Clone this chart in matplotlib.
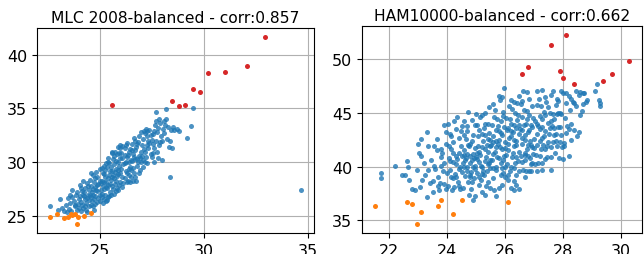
import numpy as np
import matplotlib
matplotlib.use("Agg")
import matplotlib.pyplot as plt

# ---------------- data: MLC 2008-balanced ----------------
mlc_title = "MLC 2008-balanced - corr:0.857"
mlc_high = [(25.6, 35.3), (28.5, 35.7), (28.8, 35.2), (29.1, 35.3), (29.5, 36.8),
            (29.85, 36.5), (30.2, 38.3), (31.05, 38.35), (32.1, 38.9), (32.95, 41.6)]
mlc_low = [(22.6, 24.9), (22.95, 25.2), (23.3, 24.85), (23.5, 24.9), (23.65, 25.2),
           (23.8, 25.2), (23.9, 24.3), (23.95, 24.95), (24.25, 25.0), (24.6, 25.3), (23.7, 25.1)]
mlc_mid = [
    (34.7, 27.4), (28.4, 28.6), (28.0, 30.2), (29.2, 32.3), (29.5, 35.0), (28.2, 34.9),
    (27.7, 34.7), (29.4, 33.4), (28.5, 31.3), (28.4, 32.0), (22.6, 25.9), (23.1, 26.6),
    (23.3, 25.5), (23.4, 26.0), (23.2, 25.8), (23.5, 26.7), (23.45, 25.4), (23.0, 25.6),
    (23.6, 26.2), (23.7, 26.8), (23.8, 25.9), (23.9, 27.2), (23.55, 25.7), (23.75, 26.4),
    (23.85, 27.0), (23.95, 26.1), (23.65, 25.5), (23.9, 25.6), (23.7, 27.4), (24.0, 26.6),
    (24.05, 27.9), (24.1, 26.3), (24.15, 27.3), (24.2, 25.8), (24.25, 26.9), (24.3, 27.6),
    (24.35, 26.2), (24.4, 28.1), (24.45, 27.0), (24.5, 26.5), (24.1, 25.5), (24.2, 28.3),
    (24.3, 25.9), (24.4, 26.7), (24.45, 27.8), (24.05, 26.9), (24.25, 27.2), (24.35, 25.6),
    (24.5, 27.4), (24.15, 26.0),
    (24.55, 28.4), (24.6, 26.0), (24.65, 27.2), (24.7, 28.8), (24.75, 26.6), (24.8, 27.7),
    (24.85, 29.1), (24.9, 26.3), (24.95, 28.0), (25.0, 27.0), (24.55, 27.0), (24.6, 27.8),
    (24.7, 25.9), (24.75, 28.2), (24.8, 26.9), (24.85, 27.4), (24.9, 28.6), (24.95, 26.7),
    (25.0, 29.4), (24.65, 26.4), (24.7, 27.5), (24.8, 28.5), (24.9, 27.3), (24.6, 29.0),
    (24.75, 25.6),
    (25.05, 28.1), (25.1, 26.8), (25.15, 29.0), (25.2, 27.5), (25.25, 28.6), (25.3, 26.4),
    (25.35, 29.6), (25.4, 27.9), (25.45, 28.8), (25.5, 27.2), (25.05, 27.4), (25.1, 29.5),
    (25.15, 26.2), (25.2, 28.9), (25.25, 27.0), (25.3, 28.2), (25.35, 27.6), (25.4, 30.0),
    (25.45, 26.9), (25.5, 29.2), (25.1, 28.3), (25.2, 26.6), (25.3, 29.9), (25.4, 28.5),
    (25.5, 28.0), (25.25, 29.3), (25.15, 27.8), (25.35, 26.5),
    (25.55, 29.6), (25.6, 27.8), (25.65, 30.3), (25.7, 28.5), (25.75, 29.1), (25.8, 27.3),
    (25.85, 30.8), (25.9, 28.9), (25.95, 29.7), (26.0, 28.2), (25.55, 28.4), (25.6, 30.9),
    (25.65, 27.5), (25.7, 29.8), (25.75, 28.0), (25.8, 30.1), (25.85, 28.7), (25.9, 31.4),
    (25.95, 27.9), (26.0, 30.4), (25.6, 29.2), (25.7, 27.1), (25.8, 29.4), (25.9, 30.0),
    (26.0, 29.0), (25.65, 28.8), (25.75, 31.0), (25.85, 27.6),
    (26.05, 30.9), (26.1, 28.6), (26.15, 29.8), (26.2, 31.3), (26.25, 29.2), (26.3, 30.5),
    (26.35, 28.3), (26.4, 31.0), (26.45, 29.6), (26.5, 30.2), (26.05, 29.4), (26.1, 30.4),
    (26.15, 28.1), (26.2, 29.9), (26.25, 31.6), (26.3, 29.0), (26.35, 30.7), (26.4, 28.8),
    (26.45, 31.2), (26.5, 29.3), (26.1, 31.5), (26.2, 28.5), (26.3, 31.8), (26.4, 30.0),
    (26.5, 28.6),
    (26.55, 31.1), (26.6, 29.5), (26.65, 32.3), (26.7, 30.3), (26.75, 28.3), (26.8, 31.7),
    (26.85, 30.0), (26.9, 32.4), (26.95, 29.3), (27.0, 31.0), (26.6, 30.8), (26.7, 32.0),
    (26.8, 29.7), (26.9, 30.6), (27.0, 32.8), (26.65, 29.0), (26.75, 31.4), (26.85, 31.9),
    (26.95, 30.4), (26.55, 30.1), (26.7, 28.6),
    (27.05, 31.6), (27.1, 30.2), (27.15, 32.9), (27.2, 31.0), (27.25, 30.5), (27.3, 32.4),
    (27.35, 31.3), (27.4, 33.0), (27.45, 30.8), (27.5, 32.1), (27.1, 29.6), (27.2, 32.7),
    (27.3, 29.9), (27.4, 31.8), (27.5, 30.5), (27.15, 31.2), (27.25, 33.1), (27.35, 32.0),
    (27.05, 30.6),
    (27.55, 32.6), (27.6, 31.3), (27.65, 33.5), (27.7, 32.0), (27.8, 33.2), (27.85, 31.6),
    (27.9, 33.6), (27.95, 32.4), (27.6, 32.9), (27.75, 31.0), (27.8, 30.4), (27.7, 33.8),
    (27.9, 31.9), (27.55, 30.9),
    (28.05, 33.1), (28.1, 32.7), (28.2, 34.0), (28.3, 33.3), (28.1, 33.8), (28.25, 32.2),
    (28.45, 33.0), (28.35, 31.4), (28.6, 33.0), (28.8, 32.9), (28.55, 33.3), (28.7, 33.1),
    (24.3, 26.6), (24.5, 25.9), (24.6, 26.8), (24.8, 26.1), (24.9, 27.9), (25.0, 26.4),
    (25.0, 28.3), (25.1, 27.1), (25.2, 29.7), (25.3, 27.7), (25.4, 26.8), (25.45, 29.9),
    (25.55, 27.0), (25.6, 28.6), (25.7, 30.6), (25.8, 28.3), (25.9, 27.4), (25.95, 30.9),
    (26.0, 31.3), (26.1, 27.7), (26.2, 30.7), (26.3, 28.2), (26.4, 29.4), (26.45, 28.2),
    (26.55, 31.7), (26.6, 28.3), (26.7, 31.1), (26.8, 30.3), (26.9, 29.0), (27.0, 30.0),
    (27.1, 32.2), (27.2, 30.0), (27.3, 31.6), (27.45, 32.5), (27.6, 30.0), (27.75, 32.8),
    (27.85, 34.0), (28.0, 32.0), (28.15, 33.5), (23.8, 26.0), (24.0, 25.8), (24.2, 27.0),
    (24.1, 27.6), (23.6, 27.0), (24.4, 25.4), (24.7, 27.0), (25.2, 28.2), (25.9, 29.3),
    (26.25, 30.0), (26.65, 30.5), (27.55, 31.7), (25.6, 31.0), (26.0, 31.6), (25.4, 30.4),
    (27.3, 32.9),
]

# ---------------- data: HAM10000-balanced ----------------
ham_title = "HAM10000-balanced - corr:0.662"
ham_high = [(26.6, 48.6), (26.8, 49.3), (27.6, 51.3), (28.1, 52.2), (27.9, 48.9),
            (28.0, 48.2), (28.4, 47.7), (29.4, 48.0), (29.7, 48.6), (30.3, 49.8)]
ham_low = [(21.5, 36.3), (22.6, 36.7), (22.8, 36.5), (22.95, 34.7), (23.1, 35.8),
           (23.7, 36.3), (23.8, 36.9), (24.2, 35.6), (24.5, 36.9), (26.1, 36.7)]
ham_mid = [
    (21.7, 39.4), (21.7, 38.9), (22.2, 40.1),
    (22.45, 39.2), (22.55, 39.2), (22.6, 40.5), (22.65, 40.0), (22.7, 38.8), (22.8, 37.9),
    (22.95, 39.7), (22.98, 42.1), (22.9, 37.8),
    (23.03, 41.3), (23.09, 42.6), (23.05, 38.1), (23.15, 38.8), (23.2, 40.3), (23.25, 39.2),
    (23.3, 43.2), (23.3, 37.2), (23.33, 39.7), (23.35, 41.9), (23.45, 40.6), (23.4, 38.5),
    (23.1, 41.0),
    (23.5, 37.6), (23.52, 38.7), (23.55, 40.1), (23.56, 41.9), (23.64, 41.5), (23.66, 42.6),
    (23.7, 39.0), (23.72, 37.8), (23.75, 38.5), (23.78, 41.6), (23.82, 41.3), (23.9, 43.9),
    (23.9, 38.4), (23.91, 40.3), (23.95, 43.2), (23.96, 42.1), (23.6, 39.8), (23.85, 39.6),
    (23.8, 40.9), (23.68, 38.2), (23.98, 37.9),
    (24.05, 44.0), (24.06, 40.8), (24.1, 39.7), (24.15, 39.0), (24.2, 40.4), (24.25, 44.2),
    (24.3, 41.0), (24.35, 44.6), (24.4, 42.7), (24.45, 40.0), (24.05, 38.2), (24.12, 41.6),
    (24.18, 37.8), (24.22, 42.3), (24.28, 39.3), (24.32, 40.2), (24.38, 38.6), (24.42, 41.3),
    (24.48, 43.3), (24.1, 40.5), (24.2, 38.9), (24.3, 43.5), (24.4, 39.8), (24.45, 37.9),
    (24.15, 42.8), (24.35, 40.7), (24.25, 38.1), (24.48, 41.9), (24.08, 41.9), (24.4, 38.2),
    (24.52, 43.8), (24.58, 44.2), (24.73, 45.1), (24.75, 37.4), (24.98, 37.3), (24.55, 40.3),
    (24.6, 41.5), (24.62, 39.1), (24.65, 42.6), (24.68, 40.0), (24.7, 43.3), (24.72, 38.6),
    (24.78, 41.0), (24.8, 42.1), (24.82, 39.5), (24.85, 44.3), (24.88, 40.6), (24.9, 42.9),
    (24.92, 38.9), (24.95, 41.7), (24.97, 40.1), (24.55, 38.0), (24.6, 42.9), (24.65, 40.8),
    (24.7, 39.6), (24.75, 41.9), (24.8, 40.3), (24.85, 38.6), (24.9, 41.2), (24.95, 43.9),
    (24.58, 41.1), (24.68, 43.8), (24.78, 39.2), (24.88, 42.4), (24.98, 39.8), (24.62, 40.6),
    (24.72, 42.0), (24.82, 37.9), (24.92, 40.8), (24.52, 39.5),
    (25.15, 44.6), (25.32, 37.4), (25.44, 45.5), (25.02, 41.3), (25.05, 39.4), (25.08, 42.8),
    (25.1, 40.4), (25.12, 43.4), (25.18, 38.8), (25.2, 41.8), (25.22, 40.0), (25.25, 42.4),
    (25.28, 39.2), (25.3, 44.0), (25.35, 40.9), (25.38, 42.0), (25.4, 38.6), (25.42, 41.4),
    (25.45, 43.1), (25.48, 39.9), (25.05, 40.7), (25.1, 38.3), (25.15, 41.1), (25.2, 43.0),
    (25.25, 39.6), (25.3, 41.6), (25.35, 38.2), (25.4, 42.6), (25.45, 40.3), (25.5, 41.9),
    (25.08, 41.9), (25.18, 40.1), (25.28, 43.6), (25.38, 39.6), (25.48, 42.5), (25.12, 39.0),
    (25.22, 44.8), (25.32, 40.5), (25.42, 44.0), (25.02, 43.9),
    (25.55, 40.6), (25.58, 42.8), (25.6, 38.9), (25.62, 44.6), (25.65, 41.4), (25.68, 39.7),
    (25.7, 43.4), (25.72, 40.9), (25.75, 42.1), (25.78, 46.6), (25.8, 38.0), (25.82, 41.8),
    (25.85, 44.2), (25.88, 40.3), (25.9, 42.9), (25.92, 45.1), (25.95, 39.4), (25.98, 43.7),
    (25.55, 43.9), (25.6, 41.2), (25.65, 45.3), (25.7, 40.0), (25.75, 43.8), (25.8, 42.5),
    (25.85, 39.2), (25.9, 41.6), (25.95, 44.7), (25.58, 39.9), (25.68, 42.4), (25.78, 40.8),
    (25.88, 43.1), (25.98, 41.0), (25.62, 37.8), (25.72, 44.4), (25.82, 46.2), (25.92, 40.6),
    (25.52, 42.0), (25.98, 47.3),
    (26.02, 42.3), (26.05, 44.5), (26.08, 40.2), (26.1, 43.6), (26.12, 41.5), (26.15, 45.6),
    (26.18, 39.6), (26.2, 42.8), (26.22, 44.0), (26.25, 40.9), (26.28, 43.2), (26.3, 38.7),
    (26.32, 41.9), (26.35, 45.0), (26.38, 42.4), (26.4, 38.3), (26.42, 44.3), (26.45, 40.5),
    (26.48, 43.0), (26.05, 41.1), (26.1, 39.2), (26.15, 42.7), (26.2, 40.0), (26.25, 45.4),
    (26.3, 43.9), (26.35, 40.3), (26.4, 42.0), (26.45, 44.8), (26.5, 41.4), (26.08, 43.4),
    (26.18, 44.4), (26.28, 41.3), (26.38, 43.6), (26.48, 39.6), (26.12, 38.8), (26.22, 46.2),
    (26.32, 39.9), (26.42, 45.9), (26.02, 40.0), (26.5, 46.6),
    (26.52, 43.5), (26.55, 41.0), (26.58, 44.6), (26.6, 42.1), (26.62, 39.7), (26.65, 45.3),
    (26.68, 42.9), (26.7, 40.6), (26.72, 44.0), (26.75, 41.6), (26.78, 46.9), (26.8, 43.2),
    (26.82, 39.6), (26.85, 44.8), (26.88, 42.4), (26.9, 40.2), (26.92, 45.6), (26.95, 43.7),
    (26.98, 41.2), (26.55, 45.8), (26.6, 40.4), (26.65, 43.9), (26.7, 42.5), (26.75, 44.4),
    (26.8, 41.0), (26.85, 43.4), (26.9, 42.0), (26.95, 40.3), (26.58, 42.7), (26.68, 41.3),
    (26.78, 45.2), (26.88, 40.8), (26.98, 44.5), (26.62, 47.0), (26.72, 39.6), (26.82, 46.3),
    (26.92, 41.8),
    (27.02, 42.6), (27.05, 44.2), (27.08, 41.1), (27.1, 45.7), (27.12, 43.0), (27.15, 40.3),
    (27.18, 46.3), (27.2, 42.4), (27.22, 44.7), (27.25, 41.6), (27.28, 43.7), (27.3, 47.1),
    (27.32, 42.0), (27.35, 45.1), (27.38, 40.7), (27.4, 43.3), (27.42, 46.0), (27.45, 41.9),
    (27.48, 44.1), (27.05, 40.2), (27.15, 43.8), (27.25, 45.6), (27.35, 42.8), (27.45, 40.9),
    (27.1, 42.0), (27.2, 41.0), (27.3, 44.4), (27.4, 41.6), (27.5, 45.5), (27.12, 47.0),
    (27.28, 40.3), (27.38, 46.5),
    (27.52, 43.0), (27.55, 45.0), (27.58, 41.8), (27.6, 46.7), (27.62, 43.8), (27.65, 42.3),
    (27.68, 47.0), (27.7, 44.4), (27.72, 41.3), (27.75, 45.7), (27.78, 43.0), (27.8, 44.9),
    (27.82, 43.7), (27.85, 45.0), (27.88, 40.8), (27.9, 42.3), (27.92, 43.7), (27.95, 44.9),
    (27.98, 41.8), (27.55, 43.6), (27.65, 44.9), (27.75, 42.4), (27.85, 46.1), (27.95, 47.0),
    (27.6, 40.9), (27.7, 42.9), (27.8, 46.3), (27.9, 45.0),
    (28.02, 46.8), (28.05, 42.2), (28.08, 44.5), (28.12, 45.9), (28.15, 43.8), (28.2, 46.6),
    (28.25, 45.3), (28.3, 44.0), (28.35, 46.0), (28.4, 43.4), (28.45, 45.6), (28.5, 42.8),
    (28.1, 46.8), (28.2, 43.5), (28.3, 46.3), (28.4, 45.9), (28.45, 47.0), (28.05, 41.9),
    (28.55, 46.7), (28.6, 46.9), (28.65, 45.2), (28.7, 46.8), (28.75, 46.8), (28.85, 46.2),
    (28.6, 44.8), (28.55, 43.2), (28.7, 45.8), (28.8, 46.0),
    (29.1, 47.0), (29.2, 47.7), (29.3, 45.9), (29.3, 45.6), (29.25, 46.2),
    (24.6, 40.0), (24.7, 41.2), (24.8, 39.0), (24.9, 40.0), (25.0, 40.9), (25.1, 41.4),
    (25.2, 39.3), (25.3, 42.9), (25.4, 40.2), (25.5, 40.6), (25.6, 42.3), (25.7, 41.8),
    (25.8, 43.3), (25.9, 39.9), (26.0, 41.7), (26.1, 42.1), (26.2, 43.3), (26.3, 42.5),
    (26.4, 40.9), (26.5, 43.9), (26.6, 43.4), (26.7, 41.1), (26.8, 42.0), (26.9, 43.9),
    (27.0, 41.7), (27.1, 44.0), (27.2, 43.5), (27.3, 42.7), (27.4, 44.8), (27.5, 42.3),
    (27.6, 44.2), (27.7, 43.6), (27.8, 41.9), (24.3, 39.0), (24.5, 41.0), (24.2, 41.3),
    (24.0, 39.4), (24.1, 43.0), (23.8, 40.1), (25.0, 44.9), (25.3, 45.0), (25.6, 45.8),
    (25.9, 46.5), (26.3, 46.0), (26.6, 46.1), (26.2, 38.0), (25.5, 38.0), (25.9, 38.3),
    (26.4, 39.2), (26.9, 39.6), (27.1, 39.6), (26.0, 39.0), (25.7, 37.3), (24.9, 36.9),
    (25.2, 37.6), (26.3, 37.8), (26.5, 37.9), (26.7, 39.0), (27.3, 39.7), (27.6, 39.7),
    (28.0, 40.7), (28.2, 41.0), (28.3, 42.5), (27.95, 42.9), (28.1, 43.1),
]

blue = "#1f77b4"
orange = "#ff7f0e"
red = "#d62728"

fig = plt.figure(figsize=(6.44, 2.55), dpi=100)
ax1 = fig.add_axes([37 / 644, 21 / 255, 277 / 644, 205 / 255])
ax2 = fig.add_axes([362 / 644, 21 / 255, 280 / 644, 207 / 255])


def draw(ax, mid, low, high, title):
    for pts, col, a in ((mid, blue, 0.8), (low, orange, 1.0), (high, red, 1.0)):
        xs, ys = zip(*pts)
        ax.scatter(xs, ys, s=13, color=col, alpha=a, linewidths=0, zorder=3)
    ax.grid(True, color="#b0b0b0", linewidth=0.8)
    ax.set_axisbelow(True)
    ax.set_title(title, fontsize=11.2, pad=4)
    ax.tick_params(labelsize=11.5)


draw(ax1, mlc_mid, mlc_low, mlc_high, mlc_title)
draw(ax2, ham_mid, ham_low, ham_high, ham_title)
ax1.set_xticks([25, 30, 35])
ax1.set_yticks([25, 30, 35, 40])
ax2.set_xticks([22, 24, 26, 28, 30])
ax2.set_yticks([35, 40, 45, 50])

fig.savefig("out.png", dpi=100)
